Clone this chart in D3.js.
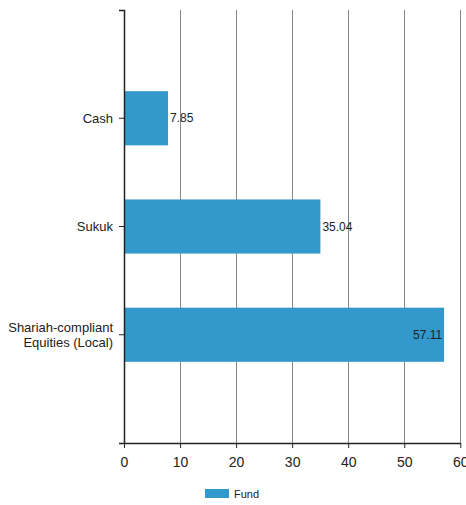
<!DOCTYPE html>
<html>
<head>
<meta charset="utf-8">
<script src="https://cdn.jsdelivr.net/npm/d3@7"></script>
<style>
  html, body { margin: 0; padding: 0; background: #fff; }
  svg { display: block; font-family: "Liberation Sans", Arial, sans-serif; }
</style>
</head>
<body>
<svg id="chart" width="466" height="505"></svg>
<script>
// Asset allocation of the fund (% of NAV)
const categories = ["Cash", "Sukuk", "Shariah-compliant Equities (Local)"];
const categoryLines = [["Cash"], ["Sukuk"], ["Shariah-compliant", "Equities (Local)"]];
const fundValues = [7.85, 35.04, 57.11];
const xTicks = [0, 10, 20, 30, 40, 50, 60];
const seriesName = "Fund";

const svg = d3.select("#chart");
const x0 = 124, y0 = 10, yBottom = 443;
const barColor = "#3399cc";

const x = d3.scaleLinear().domain([0, 60]).range([x0, 460.3]);
const y = d3.scaleBand().domain(categories).range([y0, yBottom])
  .paddingInner(0.5).paddingOuter(0.75);

// vertical gridlines
svg.append("g")
  .selectAll("line")
  .data(xTicks.filter(d => d > 0))
  .join("line")
  .attr("x1", d => Math.round(x(d)) + 0.5)
  .attr("x2", d => Math.round(x(d)) + 0.5)
  .attr("y1", y0)
  .attr("y2", yBottom)
  .attr("stroke", "#888")
  .attr("stroke-width", 1);

// bars
svg.append("g")
  .selectAll("rect")
  .data(fundValues)
  .join("rect")
  .attr("x", x(0))
  .attr("y", (d, i) => y(categories[i]))
  .attr("width", d => x(d) - x(0))
  .attr("height", y.bandwidth())
  .attr("fill", barColor);

// value labels: outside the bar end, or inside when near the axis limit
svg.append("g")
  .selectAll("text")
  .data(fundValues)
  .join("text")
  .attr("x", d => d > 50 ? x(d) - 2 : x(d) + 2)
  .attr("y", (d, i) => y(categories[i]) + y.bandwidth() / 2)
  .attr("dy", "0.35em")
  .attr("text-anchor", d => d > 50 ? "end" : "start")
  .attr("font-size", 12)
  .attr("fill", "#222")
  .text(d => d.toFixed(2));

// y axis
const yAxis = svg.append("g")
  .attr("transform", `translate(${x0},0)`)
  .call(d3.axisLeft(y).tickSize(5).tickSizeOuter(5).tickFormat(""));
yAxis.select(".domain").attr("stroke", "#222").attr("stroke-width", 1.5);
yAxis.selectAll(".tick line").attr("stroke", "#222");

// wrapped category labels
svg.append("g")
  .selectAll("text")
  .data(categories)
  .join("text")
  .attr("text-anchor", "end")
  .attr("font-size", 13)
  .attr("fill", "#222")
  .each(function (d, i) {
    const lines = categoryLines[i];
    const cy = y(d) + y.bandwidth() / 2;
    const lh = 15.5;
    const t = d3.select(this);
    lines.forEach((ln, j) => {
      t.append("tspan")
        .attr("x", x0 - 11)
        .attr("y", cy + (j - (lines.length - 1) / 2) * lh)
        .attr("dy", "0.35em")
        .text(ln);
    });
  });

// x axis
const xAxis = svg.append("g")
  .attr("transform", `translate(0,${yBottom})`)
  .call(d3.axisBottom(x).tickValues(xTicks).tickSize(5).tickSizeOuter(0));
xAxis.select(".domain").attr("stroke", "#222").attr("stroke-width", 1.5);
xAxis.selectAll(".tick line").attr("stroke", "#222");
xAxis.selectAll(".tick text")
  .attr("font-size", 14)
  .attr("font-family", "Liberation Sans, Arial, sans-serif")
  .attr("fill", "#222")
  .attr("dy", "1.15em");

// legend
const legend = svg.append("g").attr("transform", "translate(205,489)");
legend.append("rect").attr("width", 24).attr("height", 9).attr("fill", barColor);
legend.append("text").attr("x", 29).attr("y", 9)
  .attr("font-size", 11).attr("fill", "#222").text(seriesName);
</script>
</body>
</html>
